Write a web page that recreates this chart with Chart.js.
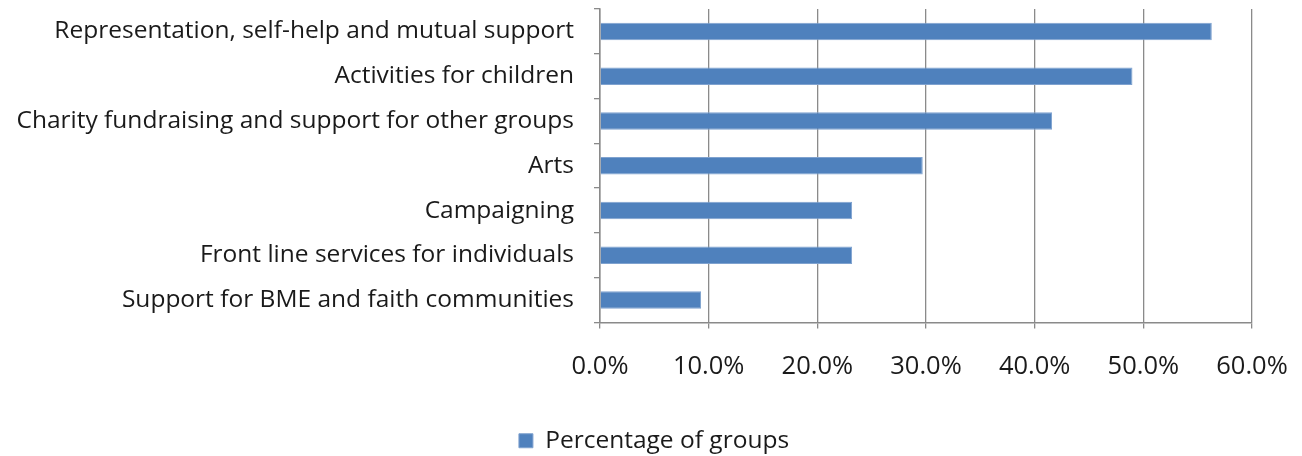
<!DOCTYPE html>
<html>
<head>
<meta charset="utf-8">
<script src="https://cdn.jsdelivr.net/npm/chart.js@4/dist/chart.umd.min.js"></script>
<style>
  html, body { margin:0; padding:0; background:#fff; }
  #wrap { width:1302px; height:456px; position:relative; }
</style>
</head>
<body>
<div id="wrap"><canvas id="chart"></canvas></div>
<script>
// Daten
const categories = [
  'Representation, self-help and mutual support',
  'Activities for children',
  'Charity fundraising and support for other groups',
  'Arts',
  'Campaigning',
  'Front line services for individuals',
  'Support for BME and faith communities'
];
const percentages = [56.3, 49.0, 41.6, 29.7, 23.2, 23.2, 9.3];
const seriesName = 'Percentage of groups';
const xTicks = [0, 10, 20, 30, 40, 50, 60];

const BAR  = '#4F81BD';
const GRID = '#8a8a8a';
const TEXT = '#1a1a1a';
const FONT = '"Open Sans", Lato, sans-serif';

Chart.defaults.font.family = FONT;
Chart.defaults.color = TEXT;
Chart.defaults.animation = false;

// Legende etwas verschieben (sitzt im Original mittig unter dem ganzen Bild)
const legendShift = {
  id: 'legendShift',
  afterLayout(chart){
    const lg = chart.legend;
    if(!lg) return;
    lg.left += 28; lg.right += 28;
    lg.top += 7;   lg.bottom += 7;
  }
};

new Chart(document.getElementById('chart'), {
  type: 'bar',
  data: {
    labels: categories,
    datasets: [{
      label: seriesName,
      data: percentages,
      backgroundColor: BAR,
      borderColor: '#7FA2CF',
      borderWidth: 1,
      borderSkipped: 'left',
      categoryPercentage: 1,
      barPercentage: 0.39
    }]
  },
  plugins: [legendShift],
  options: {
    indexAxis: 'y',
    responsive: true,
    maintainAspectRatio: false,
    devicePixelRatio: 1,
    layout: { padding: { top: 9, right: 50, bottom: 0, left: 0 } },
    plugins: {
      tooltip: { enabled: false },
      legend: {
        position: 'bottom',
        labels: {
          color: TEXT,
          boxWidth: 14,
          boxHeight: 14,
          font: { size: 24.5 },
          padding: 6
        }
      }
    },
    scales: {
      x: {
        min: 0,
        max: 60,
        afterBuildTicks: s => { s.ticks = xTicks.map(v => ({ value: v })); },
        ticks: {
          color: TEXT,
          font: { size: 25.5 },
          padding: 23,
          maxRotation: 0,
          callback: v => v.toFixed(1) + '%'
        },
        grid: { color: GRID, lineWidth: 1.3, tickLength: 6 },
        border: { color: GRID, width: 1.5 },
        afterFit: s => { s.height = 93; s.paddingLeft = 0; s.paddingRight = 0; }
      },
      y: {
        ticks: {
          color: TEXT,
          font: { size: 24.5 },
          padding: 20
        },
        grid: { drawOnChartArea: false, color: GRID, lineWidth: 1.3, tickLength: 6 },
        border: { color: GRID, width: 1.5 },
        afterFit: s => { s.width = 600; s.paddingTop = 0; s.paddingBottom = 0; }
      }
    }
  }
});
</script>
</body>
</html>
